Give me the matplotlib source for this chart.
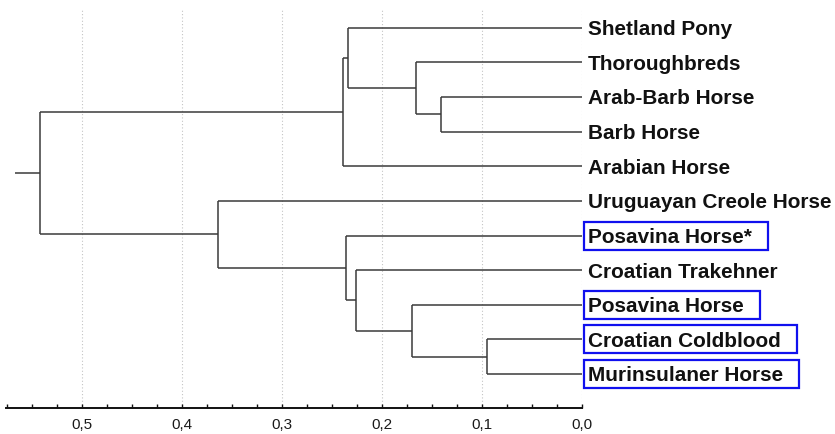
import matplotlib
matplotlib.use("Agg")
import matplotlib.pyplot as plt
from matplotlib.ticker import MultipleLocator, FuncFormatter
from matplotlib.patches import Rectangle

# ---- data ----
leaves = ["Shetland Pony", "Thoroughbreds", "Arab-Barb Horse", "Barb Horse",
          "Arabian Horse", "Uruguayan Creole Horse", "Posavina Horse*",
          "Croatian Trakehner", "Posavina Horse", "Croatian Coldblood",
          "Murinsulaner Horse"]
boxed = ["Posavina Horse*", "Posavina Horse", "Croatian Coldblood", "Murinsulaner Horse"]
# merges: (child_a, child_b, distance); new node ids start at len(leaves)
merge_a = [2, 1, 0, 13, 9, 8, 7, 6, 5, 14]
merge_b = [3, 11, 12, 4, 10, 15, 16, 17, 18, 19]
merge_h = [0.141, 0.166, 0.234, 0.239, 0.095, 0.170, 0.226, 0.236, 0.364, 0.542]
root_stub = 0.567
tick_values = [0.5, 0.4, 0.3, 0.2, 0.1, 0.0]

W, H = 835, 434
fig = plt.figure(figsize=(W / 100, H / 100), dpi=100)
fig.patch.set_facecolor("white")
ax = fig.add_axes([6 / W, (H - 408) / H, 576 / W, (408 - 9) / H])

line_kw = dict(color="#3a3a3a", lw=1.1, solid_capstyle="butt", zorder=3)

# node positions
xs = {i: 0.0 for i in range(len(leaves))}
ys = {i: float(i) for i in range(len(leaves))}
n = len(leaves)
for k, (a, b, h) in enumerate(zip(merge_a, merge_b, merge_h)):
    node = n + k
    for c in (a, b):
        ax.plot([xs[c], h], [ys[c], ys[c]], **line_kw)
    ax.plot([h, h], [ys[a], ys[b]], **line_kw)
    xs[node] = h
    ys[node] = (ys[a] + ys[b]) / 2
root = n + len(merge_h) - 1
ax.plot([xs[root], root_stub], [ys[root], ys[root]], **line_kw)

ax.set_xlim(0.576, 0.0)
ax.set_ylim(10.98, -0.54)

# grid
for v in tick_values:
    ax.axvline(v, color="#c4c4c4", lw=0.8, ls=(0, (1, 2)), zorder=1)

for s in ("top", "left", "right"):
    ax.spines[s].set_visible(False)
ax.spines["bottom"].set_color("#111111")
ax.spines["bottom"].set_linewidth(1.4)
ax.set_yticks([])
ax.set_xticks(tick_values)
ax.xaxis.set_minor_locator(MultipleLocator(0.025))
ax.xaxis.set_major_formatter(FuncFormatter(lambda v, p: f"{v:.1f}".replace(".", ",")))
ax.tick_params(axis="x", which="both", direction="in", length=3, width=1,
               color="#111111", pad=7.5, labelsize=11, labelcolor="#1a1a1a")
for lab in ax.get_xticklabels():
    lab.set_fontfamily("Liberation Sans")
ax.patch.set_alpha(0)

# leaf labels
texts = []
for i, name in enumerate(leaves):
    t = ax.annotate(name, xy=(0.0, i), xytext=(4.5, -5.3), textcoords="offset points",
                    ha="left", va="baseline", fontsize=14.95, fontweight="bold",
                    family="Liberation Sans", color="#111111", annotation_clip=False)
    texts.append(t)

fig.canvas.draw()
renderer = fig.canvas.get_renderer()
inv = fig.transFigure.inverted()
for i, (name, t) in enumerate(zip(leaves, texts)):
    if name in boxed:
        bb = t.get_window_extent(renderer)
        yc = ax.transData.transform((0, i))[1]
        x0, x1 = bb.x0 - 4, bb.x1 + 16
        y0, y1 = yc - 14, yc + 14
        (fx0, fy0) = inv.transform((x0, y0))
        (fx1, fy1) = inv.transform((x1, y1))
        fig.patches.append(Rectangle((fx0, fy0), fx1 - fx0, fy1 - fy0,
                                     transform=fig.transFigure, fill=False,
                                     edgecolor="#1010ee", lw=1.6, zorder=5))

fig.savefig("out.png", dpi=100)
